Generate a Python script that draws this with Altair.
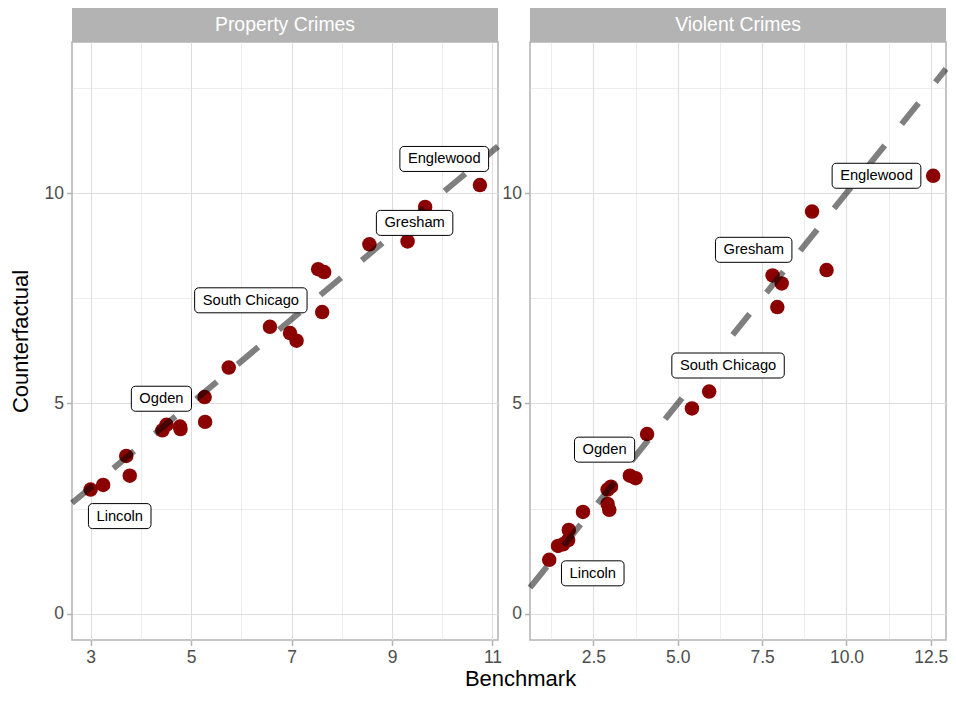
import json
import altair as alt
import pandas as pd

# ---------------- data ----------------
panel_names = ["Property Crimes", "Violent Crimes"]

property_benchmark = [10.75, 9.66, 9.31, 8.55, 7.53, 7.65, 7.61, 6.57, 6.97, 7.10,
                      5.75, 5.27, 5.28, 4.51, 4.43, 4.78, 4.79, 3.71, 3.78, 3.00, 3.25]
property_counterfactual = [10.19, 9.67, 8.85, 8.78, 8.19, 8.12, 7.17, 6.82, 6.67, 6.49,
                           5.85, 5.15, 4.56, 4.49, 4.36, 4.45, 4.39, 3.75, 3.28, 2.95, 3.06]

violent_benchmark = [12.57, 8.98, 9.41, 7.81, 8.08, 7.95, 5.93, 5.42, 4.09, 3.58, 3.75,
                     3.02, 2.92, 2.92, 2.97, 2.19, 1.77, 1.75, 1.60, 1.45, 1.19]
violent_counterfactual = [10.41, 9.56, 8.17, 8.04, 7.85, 7.29, 5.28, 4.88, 4.27, 3.28, 3.22,
                          3.02, 2.95, 2.61, 2.47, 2.42, 1.99, 1.75, 1.65, 1.61, 1.28]

label_names = ["Englewood", "Gresham", "South Chicago", "Ogden", "Lincoln"]
property_label_x = [10.04, 9.45, 6.19, 4.41, 3.58]
property_label_y = [10.81, 9.29, 7.45, 5.11, 2.32]
violent_label_x = [10.89, 7.25, 6.49, 2.83, 2.48]
violent_label_y = [10.41, 8.65, 5.90, 3.90, 0.96]

y_domain = [-0.625, 13.59]
property_x_domain = [2.63, 11.11]
violent_x_domain = [0.62, 12.95]

y_major = [0, 5, 10]
y_minor = [2.5, 7.5, 12.5]
property_x_major = [3, 5, 7, 9, 11]
property_x_minor = [4, 6, 8, 10]
violent_x_major = [2.5, 5, 7.5, 10, 12.5]
violent_x_minor = [1.25, 3.75, 6.25, 8.75, 11.25]

# ---------------- styling ----------------
FONT = "Liberation Sans"
LABEL_FS = 14.7
BOX_H = 25.0
BOX_R = 4.0
LEFT_W = 426
RIGHT_W = 416
PANEL_H = 598
STRIP_H = 34
AXIS_LEFT = 64
SVG_W = 940
SVG_H = 682

# Helvetica/Arial advance widths (per 1000 em) for the label characters
CHAR_W = {'E': 667, 'n': 556, 'g': 556, 'l': 222, 'e': 556, 'w': 722, 'o': 556,
          'd': 556, 'G': 778, 'r': 333, 's': 500, 'h': 556, 'a': 556, 'm': 833,
          'S': 667, 'u': 556, 't': 278, ' ': 278, 'C': 722, 'i': 222, 'c': 500,
          'O': 778, 'L': 556}


def box_path(text):
    w = sum(CHAR_W.get(ch, 556) for ch in text) * LABEL_FS / 1000.0 + 16.0
    a = w / BOX_H          # half-width in symbol units (symbol unit = BOX_H/2 px)
    r = 2 * BOX_R / BOX_H  # corner radius in symbol units
    f = lambda v: f"{v:.4f}"
    return (f"M{f(-a + r)},-1H{f(a - r)}A{f(r)},{f(r)} 0 0 1 {f(a)},{f(-1 + r)}"
            f"V{f(1 - r)}A{f(r)},{f(r)} 0 0 1 {f(a - r)},1H{f(-a + r)}"
            f"A{f(r)},{f(r)} 0 0 1 {f(-a)},{f(1 - r)}V{f(-1 + r)}"
            f"A{f(r)},{f(r)} 0 0 1 {f(-a + r)},-1Z")


def cond(majors, major_val, minor_val):
    test = f"indexof({json.dumps(majors)}, datum.value) >= 0"
    return {"condition": {"test": test, "value": major_val}, "value": minor_val}


def make_axis(majors, minors, fmt, title=None, title_pad=None):
    kw = dict(
        values=sorted(majors + minors),
        format=fmt,
        labelExpr=f"indexof({json.dumps(majors)}, datum.value) >= 0 ? datum.label : ''",
        gridWidth=cond(majors, 1.1, 0.55),
        tickOpacity=cond(majors, 1, 0),
        labelFlush=False,
        labelOverlap=False,
        title=title,
    )
    if title_pad is not None:
        kw["titlePadding"] = title_pad
    return alt.Axis(**kw)


def panel(name, bx, cy, lx, ly, xdom, xmaj, xmin, xfmt, width, ytitle):
    xs = alt.Scale(domain=xdom, nice=False, zero=False)
    ys = alt.Scale(domain=y_domain, nice=False, zero=False)

    pts = pd.DataFrame({"Benchmark": bx, "Counterfactual": cy})
    line_df = pd.DataFrame({"Benchmark": xdom, "Counterfactual": xdom})
    lab_df = pd.DataFrame({"Benchmark": lx, "Counterfactual": ly, "name": label_names})
    lab_df["path"] = [box_path(t) for t in label_names]
    strip_df = pd.DataFrame({"t": [name]})

    xaxis = make_axis(xmaj, xmin, xfmt)
    yaxis = make_axis(y_major, y_minor, "d", title=ytitle, title_pad=12)

    points = alt.Chart(pts).mark_circle(size=210, color="#8B0000", opacity=1).encode(
        x=alt.X("Benchmark:Q", scale=xs, axis=xaxis, title=None),
        y=alt.Y("Counterfactual:Q", scale=ys, axis=yaxis, title=ytitle),
    )
    line = alt.Chart(line_df).mark_line(
        color="black", opacity=0.5, strokeWidth=6, strokeDash=[27, 27], strokeCap="butt"
    ).encode(
        x=alt.X("Benchmark:Q", scale=xs, title=None),
        y=alt.Y("Counterfactual:Q", scale=ys, title=ytitle),
    )
    boxes = alt.Chart(lab_df).mark_point(
        filled=True, fill="white", stroke="black", strokeWidth=1, opacity=1,
        fillOpacity=1, strokeOpacity=1, size=BOX_H * BOX_H
    ).encode(
        x=alt.X("Benchmark:Q", scale=xs, title=None),
        y=alt.Y("Counterfactual:Q", scale=ys, title=ytitle),
        shape=alt.Shape("path:N", scale=None, legend=None),
    )
    texts = alt.Chart(lab_df).mark_text(
        font=FONT, fontSize=LABEL_FS, color="black", align="center", baseline="middle", dy=0.5
    ).encode(
        x=alt.X("Benchmark:Q", scale=xs, title=None),
        y=alt.Y("Counterfactual:Q", scale=ys, title=ytitle),
        text="name:N",
    )
    strip = alt.Chart(strip_df).mark_rect(color="#B3B3B3", opacity=1).encode(
        x=alt.value(0), x2=alt.value(width), y=alt.value(-STRIP_H), y2=alt.value(0)
    )
    strip_text = alt.Chart(strip_df).mark_text(
        font=FONT, fontSize=19.4, color="white", align="center", baseline="middle"
    ).encode(x=alt.value(width / 2), y=alt.value(-STRIP_H / 2), text="t:N")

    return alt.layer(points, line, boxes, texts, strip, strip_text).properties(
        width=width, height=PANEL_H
    )


left = panel(panel_names[0], property_benchmark, property_counterfactual,
             property_label_x, property_label_y, property_x_domain,
             property_x_major, property_x_minor, "d", LEFT_W, "Counterfactual")
right = panel(panel_names[1], violent_benchmark, violent_counterfactual,
              violent_label_x, violent_label_y, violent_x_domain,
              violent_x_major, violent_x_minor, ".1f", RIGHT_W, None)

chart = alt.hconcat(left, right, spacing=-10).properties(
    title=alt.TitleParams("Benchmark", orient="bottom", anchor="middle", fontSize=22,
                          fontWeight="normal", color="black", font=FONT, offset=2, dx=37),
    autosize=alt.AutoSizeParams(type="none"),
    padding={"left": AXIS_LEFT, "top": STRIP_H,
             "right": SVG_W - AXIS_LEFT, "bottom": SVG_H - STRIP_H},
    background="white",
).configure_view(
    stroke="#B3B3B3", strokeWidth=1.5
).configure_axis(
    domain=False,
    tickColor="#B3B3B3", tickWidth=1.5, tickSize=5.5,
    labelFont=FONT, labelFontSize=17.5, labelColor="#4D4D4D", labelPadding=3,
    gridColor="#DEDEDE",
    titleFont=FONT, titleFontSize=22, titleFontWeight="normal", titleColor="black",
)

chart.save("out.html", embed_options={"renderer": "svg", "actions": False})
